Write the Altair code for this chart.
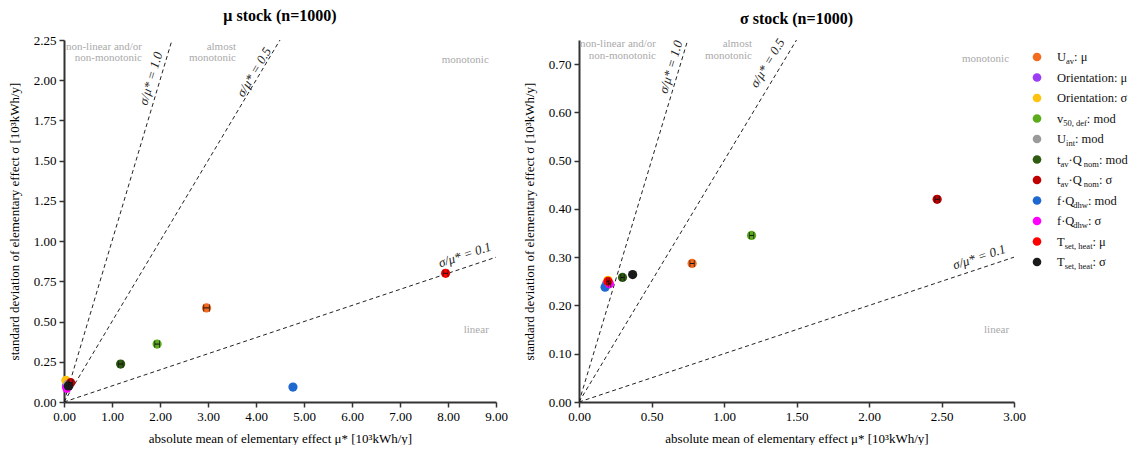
import altair as alt
import pandas as pd
import math

FONT = "Liberation Serif"

series = ["U_av: μ", "Orientation: μ", "Orientation: σ", "v_50,def: mod", "U_int: mod",
          "t_av·Q_nom: mod", "t_av·Q_nom: σ", "f·Q_dhw: mod", "f·Q_dhw: σ",
          "T_set,heat: μ", "T_set,heat: σ"]
colors = ["#f26b21", "#9b3df2", "#ffc20e", "#5bab1c", "#9a9a9a", "#2f5a12",
          "#c00000", "#1f68d0", "#ff00ff", "#ff0000", "#1a1a1a"]

# legend label pieces: (text, is_subscript)
label_parts = [
    [("U", 0), ("av", 1), (": μ", 0)],
    [("Orientation: μ", 0)],
    [("Orientation: σ", 0)],
    [("v", 0), ("50, def", 1), (": mod", 0)],
    [("U", 0), ("int", 1), (": mod", 0)],
    [("t", 0), ("av", 1), (" ·Q", 0), ("nom", 1), (": mod", 0)],
    [("t", 0), ("av", 1), (" ·Q", 0), ("nom", 1), (": σ", 0)],
    [("f·Q", 0), ("dhw", 1), (": mod", 0)],
    [("f·Q", 0), ("dhw", 1), (": σ", 0)],
    [("T", 0), ("set, heat", 1), (": μ", 0)],
    [("T", 0), ("set, heat", 1), (": σ", 0)],
]

# mu stock (n=1000)
mu_x = [2.97, 0.05, 0.04, 1.94, 0.08, 1.18, 0.14, 4.77, 0.06, 7.95, 0.09]
mu_y = [0.585, 0.10, 0.135, 0.36, 0.11, 0.236, 0.12, 0.093, 0.085, 0.80, 0.10]
mu_err = [0.06, 0, 0, 0.05, 0, 0.05, 0.04, 0, 0, 0.05, 0]

# sigma stock (n=1000)
sg_x = [0.78, 0.19, 0.20, 1.19, 0.19, 0.30, 2.47, 0.18, 0.21, 0.20, 0.37]
sg_y = [0.287, 0.245, 0.252, 0.345, 0.243, 0.258, 0.42, 0.238, 0.245, 0.25, 0.264]
sg_err = [0.015, 0, 0, 0.015, 0, 0.012, 0.015, 0, 0.008, 0.008, 0]

ratios = [1.0, 0.5, 0.1]
ratio_text = ["σ/μ* = 1.0", "σ/μ* = 0.5", "σ/μ* = 0.1"]

mu_xticks = [0, 1, 2, 3, 4, 5, 6, 7, 8, 9]
mu_yticks = [0, 0.25, 0.5, 0.75, 1.0, 1.25, 1.5, 1.75, 2.0, 2.25]
sg_xticks = [0, 0.5, 1.0, 1.5, 2.0, 2.5, 3.0]
sg_yticks = [0, 0.1, 0.2, 0.3, 0.4, 0.5, 0.6, 0.7]

region_text = ["non-linear and/or", "non-monotonic", "almost", "monotonic", "monotonic", "linear"]
mu_region_x = [1.625, 1.625, 3.583, 3.583, 8.85, 8.85]
mu_region_y = [2.208, 2.136, 2.208, 2.136, 2.125, 0.447]
sg_region_x = [0.531, 0.531, 1.193, 1.193, 2.966, 2.966]
sg_region_y = [0.742, 0.717, 0.742, 0.717, 0.711, 0.150]

mu_ratio_x = [1.81, 3.96, 8.35]
mu_ratio_y = [2.01, 2.05, 0.914]
sg_ratio_x = [0.634, 1.30, 2.76]
sg_ratio_y = [0.694, 0.702, 0.30]

XTITLE = "absolute mean of elementary effect μ* [10³kWh/y]"
YTITLE = "standard deviation of elementary effect σ [10³kWh/y]"

color_enc = alt.Color("series:N", scale=alt.Scale(domain=series, range=colors), legend=None)

PH = 362


def panel(title, pw, px, py, perr, xmax, ymax, xticks, yticks, rx, ry, lx, ly):
    pts = pd.DataFrame({"series": series, "x": px, "y": py, "e": perr,
                        "k": list(range(len(series)))})
    pts["x0"] = pts["x"] - pts["e"]
    pts["x1"] = pts["x"] + pts["e"]
    eb = pts[pts["e"] > 0]
    xsc = alt.Scale(domain=[0, xmax], nice=False, zero=False)
    ysc = alt.Scale(domain=[0, ymax], nice=False, zero=False)
    xax = alt.Axis(values=xticks, format=".2f", title=XTITLE, titlePadding=9)
    yax = alt.Axis(values=yticks, format=".2f", title=YTITLE, titlePadding=12)

    def X(f):
        return alt.X(f + ":Q", scale=xsc, axis=xax)

    def Y(f):
        return alt.Y(f + ":Q", scale=ysc, axis=yax)

    def ang(r):
        s = r * (PH / ymax) / (pw / xmax)
        return 360 - math.degrees(math.atan(s))

    lines_df = pd.DataFrame([{"r": r, "x": xx, "y": r * xx} for r in ratios for xx in (0.0, xmax)])
    lines = alt.Chart(lines_df).mark_line(clip=True, strokeDash=[4, 3], color="#222",
                                          strokeWidth=1).encode(x=X("x"), y=Y("y"), detail="r:N")

    reg = pd.DataFrame({"t": region_text, "x": rx, "y": ry})
    regions = alt.Chart(reg).mark_text(font=FONT, fontSize=11, color="#aaaaaa", align="right",
                                       baseline="middle").encode(x=X("x"), y=Y("y"), text="t:N")

    rat = pd.DataFrame({"t": ratio_text, "x": lx, "y": ly, "a": [ang(r) for r in ratios]})
    rlabels = alt.Chart(rat).mark_text(font=FONT, fontSize=13, fontStyle="italic", color="#222",
                                       align="center", baseline="middle").encode(
        x=X("x"), y=Y("y"), text="t:N", angle=alt.Angle("a:Q", scale=None))

    dots = alt.Chart(pts).mark_circle(size=85, opacity=1).encode(
        x=X("x"), y=Y("y"), color=color_enc, order="k:Q")

    rule = alt.Chart(eb).mark_rule(color="#111", strokeWidth=1).encode(
        x=X("x0"), x2="x1:Q", y=Y("y"))
    capl = alt.Chart(eb).mark_tick(orient="vertical", size=7, thickness=1, color="#111").encode(
        x=X("x0"), y=Y("y"))
    capr = alt.Chart(eb).mark_tick(orient="vertical", size=7, thickness=1, color="#111").encode(
        x=X("x1"), y=Y("y"))

    return alt.layer(lines, regions, rlabels, dots, rule, capl, capr).properties(
        width=pw, height=PH, title=alt.TitleParams(title, anchor="middle"))


left = panel("μ stock (n=1000)", 432, mu_x, mu_y, mu_err, 9.0, 2.25, mu_xticks, mu_yticks,
             mu_region_x, mu_region_y, mu_ratio_x, mu_ratio_y)
right = panel("σ stock (n=1000)", 435, sg_x, sg_y, sg_err, 3.0, 0.75, sg_xticks, sg_yticks,
              sg_region_x, sg_region_y, sg_ratio_x, sg_ratio_y)

# ---------- legend panel ----------
TW = {' ': 250, ',': 250, '-': 333, '.': 250, '/': 278, ':': 278, '·': 250,
      'O': 722, 'Q': 722, 'T': 611, 'U': 722,
      'a': 444, 'b': 500, 'c': 444, 'd': 500, 'e': 444, 'f': 333, 'g': 500, 'h': 500,
      'i': 278, 'j': 278, 'k': 500, 'l': 278, 'm': 778, 'n': 500, 'o': 500, 'p': 500,
      'q': 500, 'r': 333, 's': 389, 't': 278, 'u': 500, 'v': 500, 'w': 722, 'x': 500,
      'y': 500, 'z': 444, 'μ': 520, 'σ': 549}

LFS, LSFS = 12.5, 8.5


def twidth(s, fs):
    return sum(TW.get(c, 500) for c in s) * fs / 1000.0


rows = []
for i, parts in enumerate(label_parts):
    off = 20.0
    for txt, sub in parts:
        fs = LSFS if sub else LFS
        rows.append({"series": series[i], "k": i, "t": txt, "x": off, "sub": sub})
        off += twidth(txt, fs)
seg = pd.DataFrame(rows)
ldots = pd.DataFrame({"series": series, "k": list(range(len(series))), "x": [0.0] * len(series)})

LW = 10
LSHIFT = 60
lxs = alt.Scale(domain=[LSHIFT, LSHIFT + LW], nice=False, zero=False)
lys = alt.Scale(domain=[0, len(series) - 1], range=[17, 222], nice=False, zero=False)
LX = alt.X("x:Q", scale=lxs, axis=None)
LY = alt.Y("k:Q", scale=lys, axis=None)

leg_dots = alt.Chart(ldots).mark_circle(size=75, opacity=1).encode(x=LX, y=LY, color=color_enc)
leg_main = alt.Chart(seg[seg["sub"] == 0]).mark_text(
    font=FONT, fontSize=LFS, color="#111", align="left", baseline="middle").encode(
    x=LX, y=LY, text="t:N")
leg_sub = alt.Chart(seg[seg["sub"] == 1]).mark_text(
    font=FONT, fontSize=LSFS, color="#111", align="left", baseline="middle", dy=4).encode(
    x=LX, y=LY, text="t:N")
legend = alt.layer(leg_dots, leg_main, leg_sub).properties(width=LW, height=PH)

chart = alt.hconcat(left, right, legend, spacing=83, bounds="flush").properties(
    padding={"left": 0, "top": 0, "right": 0, "bottom": 0}
).configure_view(stroke=None).configure_axis(
    domainColor="#333", domainWidth=2, tickColor="#333", tickWidth=1.5, tickSize=5,
    labelFont=FONT, titleFont=FONT, labelFontSize=13, titleFontSize=13,
    labelColor="#000", titleColor="#000", titleFontWeight="normal", grid=False,
    labelFlush=False, labelPadding=3, labelOverlap=False
).configure_title(font=FONT, fontSize=16, fontWeight="bold", offset=10, color="#000"
).configure_text(font=FONT)

chart.save("out.html", embed_options={"renderer": "svg", "actions": False})
